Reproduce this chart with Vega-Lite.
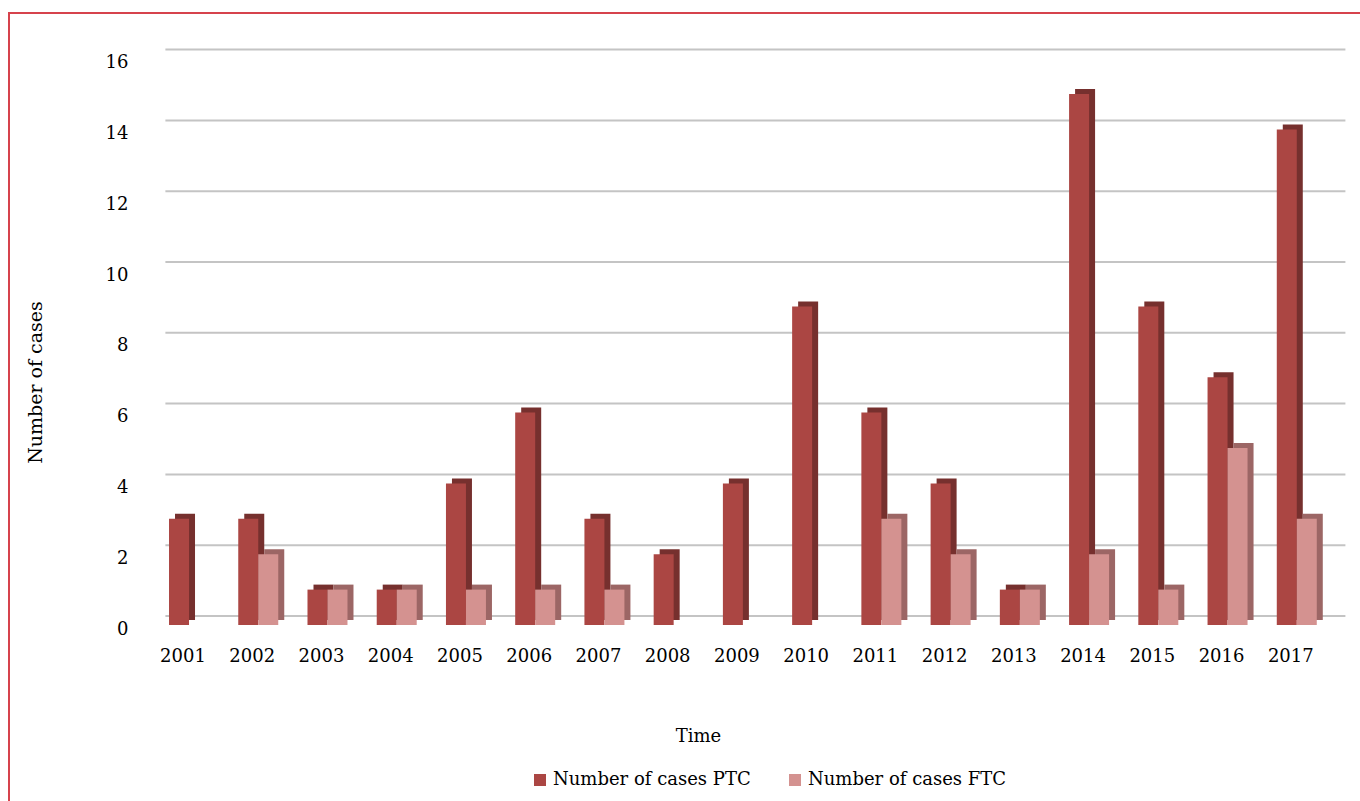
{
  "$schema": "https://vega.github.io/schema/vega-lite/v6.json",
  "width": 1360,
  "height": 798,
  "autosize": {"type": "none"},
  "padding": {"left": 9, "top": 13, "right": 0, "bottom": 0},
  "background": "white",
  "config": {
    "view": {"stroke": "#d6434c", "strokeWidth": 2},
    "font": "DejaVu Serif",
    "axisX": {
      "offset": -186, "domain": false, "ticks": false, "grid": false,
      "labelPadding": 22, "labelOffset": -6, "labelAngle": 0,
      "labelFont": "DejaVu Serif", "labelFontSize": 18, "labelColor": "#000000",
      "titleFont": "DejaVu Serif", "titleFontSize": 18, "titleFontWeight": "normal", "titleColor": "#000000",
      "titleX": 689, "titleY": 111, "titleBaseline": "middle", "titleAlign": "center"
    },
    "axisY": {
      "offset": -139, "domain": false, "ticks": false, "grid": false,
      "labelPadding": 20, "labelOffset": 4,
      "labelFont": "DejaVu Serif", "labelFontSize": 18, "labelColor": "#000000",
      "titleFont": "DejaVu Serif", "titleFontSize": 19, "titleFontWeight": "normal", "titleColor": "#000000",
      "titleX": -113, "titleY": 369, "titleAngle": -90, "titleBaseline": "middle", "titleAlign": "center"
    },
    "legend": {
      "orient": "none", "legendX": 522, "legendY": 758, "direction": "horizontal",
      "labelFont": "DejaVu Serif", "labelFontSize": 18, "labelColor": "#000000", "labelLimit": 400,
      "symbolType": "square", "symbolSize": 144, "symbolStrokeWidth": 0,
      "labelOffset": 4, "columnPadding": 35, "title": null
    }
  },
  "datasets": {
    "cases": [
      {"year": "2001", "series": "Number of cases PTC", "value": 3},
      {"year": "2002", "series": "Number of cases PTC", "value": 3},
      {"year": "2003", "series": "Number of cases PTC", "value": 1},
      {"year": "2004", "series": "Number of cases PTC", "value": 1},
      {"year": "2005", "series": "Number of cases PTC", "value": 4},
      {"year": "2006", "series": "Number of cases PTC", "value": 6},
      {"year": "2007", "series": "Number of cases PTC", "value": 3},
      {"year": "2008", "series": "Number of cases PTC", "value": 2},
      {"year": "2009", "series": "Number of cases PTC", "value": 4},
      {"year": "2010", "series": "Number of cases PTC", "value": 9},
      {"year": "2011", "series": "Number of cases PTC", "value": 6},
      {"year": "2012", "series": "Number of cases PTC", "value": 4},
      {"year": "2013", "series": "Number of cases PTC", "value": 1},
      {"year": "2014", "series": "Number of cases PTC", "value": 15},
      {"year": "2015", "series": "Number of cases PTC", "value": 9},
      {"year": "2016", "series": "Number of cases PTC", "value": 7},
      {"year": "2017", "series": "Number of cases PTC", "value": 14},
      {"year": "2001", "series": "Number of cases FTC", "value": 0},
      {"year": "2002", "series": "Number of cases FTC", "value": 2},
      {"year": "2003", "series": "Number of cases FTC", "value": 1},
      {"year": "2004", "series": "Number of cases FTC", "value": 1},
      {"year": "2005", "series": "Number of cases FTC", "value": 1},
      {"year": "2006", "series": "Number of cases FTC", "value": 1},
      {"year": "2007", "series": "Number of cases FTC", "value": 1},
      {"year": "2008", "series": "Number of cases FTC", "value": 0},
      {"year": "2009", "series": "Number of cases FTC", "value": 0},
      {"year": "2010", "series": "Number of cases FTC", "value": 0},
      {"year": "2011", "series": "Number of cases FTC", "value": 3},
      {"year": "2012", "series": "Number of cases FTC", "value": 2},
      {"year": "2013", "series": "Number of cases FTC", "value": 1},
      {"year": "2014", "series": "Number of cases FTC", "value": 2},
      {"year": "2015", "series": "Number of cases FTC", "value": 1},
      {"year": "2016", "series": "Number of cases FTC", "value": 5},
      {"year": "2017", "series": "Number of cases FTC", "value": 3}
    ],
    "grid": [
      {"v": 0}, {"v": 2}, {"v": 4}, {"v": 6}, {"v": 8},
      {"v": 10}, {"v": 12}, {"v": 14}, {"v": 16}
    ]
  },
  "layer": [
    {
      "data": {"name": "grid"},
      "mark": {"type": "rule", "color": "#c4c4c4", "strokeWidth": 2, "xOffset": 11, "x2Offset": 14, "yOffset": -9},
      "encoding": {
        "x": {"datum": "2001", "type": "nominal", "bandPosition": 0, "title": "Time",
              "scale": {"domain": ["2001","2002","2003","2004","2005","2006","2007","2008","2009","2010","2011","2012","2013","2014","2015","2016","2017"],
                        "range": [145.4, 1322.4], "paddingInner": 0, "paddingOuter": 0}},
        "x2": {"datum": "2017", "bandPosition": 1},
        "y": {"field": "v", "type": "quantitative", "title": "Number of cases",
              "axis": {"values": [0, 2, 4, 6, 8, 10, 12, 14, 16]},
              "scale": {"domain": [0, 16], "range": [612, 45.6], "nice": false, "zero": true}}
      }
    },
    {
      "data": {"name": "cases"},
      "transform": [{"filter": "datum.series === 'Number of cases PTC'"}],
      "mark": {"type": "bar", "width": 20, "color": "#76302e", "xOffset": -4, "yOffset": -5, "y2Offset": -5},
      "encoding": {
        "x": {"field": "year", "type": "nominal", "title": "Time"},
        "y": {"field": "value", "type": "quantitative", "title": "Number of cases",
              "axis": {"values": [0, 2, 4, 6, 8, 10, 12, 14, 16]}}
      }
    },
    {
      "data": {"name": "cases"},
      "transform": [{"filter": "datum.series === 'Number of cases FTC'"}],
      "mark": {"type": "bar", "width": 20, "color": "#9c6665", "xOffset": 16, "yOffset": -5, "y2Offset": -5},
      "encoding": {
        "x": {"field": "year", "type": "nominal", "title": "Time"},
        "y": {"field": "value", "type": "quantitative", "title": "Number of cases",
              "axis": {"values": [0, 2, 4, 6, 8, 10, 12, 14, 16]}}
      }
    },
    {
      "data": {"name": "cases"},
      "transform": [{"filter": "datum.series === 'Number of cases PTC'"}],
      "mark": {"type": "bar", "width": 20, "xOffset": -10},
      "encoding": {
        "x": {"field": "year", "type": "nominal", "title": "Time"},
        "y": {"field": "value", "type": "quantitative", "title": "Number of cases",
              "axis": {"values": [0, 2, 4, 6, 8, 10, 12, 14, 16]}},
        "color": {"field": "series", "type": "nominal",
                  "scale": {"domain": ["Number of cases PTC", "Number of cases FTC"], "range": ["#ab4643", "#d49290"]}}
      }
    },
    {
      "data": {"name": "cases"},
      "transform": [{"filter": "datum.series === 'Number of cases FTC'"}],
      "mark": {"type": "bar", "width": 20, "xOffset": 10},
      "encoding": {
        "x": {"field": "year", "type": "nominal", "title": "Time"},
        "y": {"field": "value", "type": "quantitative", "title": "Number of cases",
              "axis": {"values": [0, 2, 4, 6, 8, 10, 12, 14, 16]}},
        "color": {"field": "series", "type": "nominal"}
      }
    }
  ]
}
